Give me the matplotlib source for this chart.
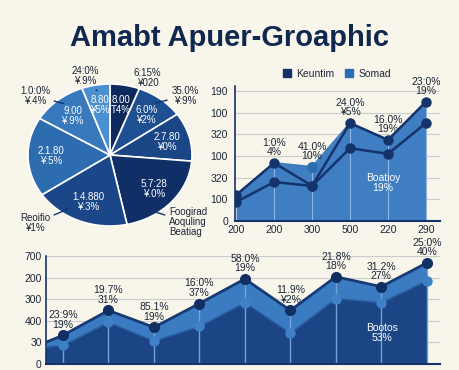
import numpy as np
import matplotlib.pyplot as plt
from matplotlib.patches import Patch

plt.rcParams['font.family'] = ['Liberation Sans', 'DejaVu Sans']

BG = '#f8f6eb'
NAVY = '#14336b'
TEXT = '#1c2538'

# pie, clockwise from 12 o'clock (slice sizes in degrees)
pie_sizes = [21, 34, 40, 73, 68, 65, 39, 20]
pie_colors = ['#0e2a5c', '#1d4f91', '#1a4686', '#0f2f66',
              '#1b4788', '#2e6cb0', '#3878bd', '#4a8fd0']
pie_inner = ['8.00\nT4%', '6.0%\n¥2%', '2.7.80\n¥0%', '5.7:28\n¥.0%',
             '1.4.880\n¥:3%', '2.1.80\n¥:5%', '9.00\n¥.9%', '8.80\n¥5%']
# outer labels: slice index, text
pie_outer = [(0, '6:15%\n¥020'), (1, '35.0%\n¥:9%'), (3, 'Foogirad\nAoquling\nBeatiag'),
             (4, 'Reoifio\n¥1%'), (6, '1.0:0%\n¥.4%'), (7, '24:0%\n¥.9%')]

# top right area chart
tr_ticks = ['200', '200', '300', '500', '220', '290']
tr_ylabels = ['0', '100', '320', '100', '320', '100', '190']
tr_upper = [60, 134, 81, 226, 187, 275]
tr_lower = [44, 90, 81, 168, 155, 226]
tr_area = [60, 134, 125, 226, 187, 275]
tr_labels = ['', '1:0%\n4%', '41.0%\n10%', '24.0%\n¥5%', '16.0%\n19%', '23:0%\n19%']
legend_names = ['Keuntim', 'Somad']

# bottom area chart (first point lies left of the axis)
bt_ylabels = ['0', '30', '400', '300', '200', '700']
bt_upper = [47, 133, 248, 170, 280, 394, 248, 404, 358, 468]
bt_lower = [63, 87, 193, 106, 174, 284, 142, 303, 284, 385]
bt_labels = ['23:9%\n19%', '19.7%\n31%', '85.1%\n19%', '16:0%\n37%', '58.0%\n19%',
             '11.9%\n¥2%', '21.8%\n18%', '31.2%\n27%', '25:0%\n40%']

W, H = 460, 370
fig = plt.figure(figsize=(4.6, 3.7), dpi=100, facecolor=BG)


def box(l, t, r, b):
    return [l / W, 1 - b / H, (r - l) / W, (b - t) / H]


fig.text(0.5, 1 - 38 / H, 'Amabt Apuer-Groaphic', ha='center', va='center',
         fontsize=21, fontweight='bold', color='#10284f')

# ---- pie ----
ax1 = fig.add_axes(box(3.4, 62.7, 216.6, 247.3))
wedges, _ = ax1.pie(pie_sizes, colors=pie_colors, startangle=90, counterclock=False,
                    wedgeprops=dict(edgecolor='white', linewidth=1.2))
ax1.set_aspect('auto')
ax1.set_xlim(-1.3, 1.3)
ax1.set_ylim(-1.3, 1.3)
ax1.set_facecolor('none')


def polar(ang, r):
    a = np.deg2rad(ang)
    return r * np.sin(a), r * np.cos(a)


mids = 90 - np.array([(w.theta1 + w.theta2) / 2 for w in wedges])
for m, lab in zip(mids, pie_inner):
    ax1.text(*polar(m, 0.72), lab, ha='center', va='center', color='white',
             fontsize=7, linespacing=1.0)

outer_pos = {0: (0.46, 1.085), 1: (0.915, 0.83), 3: (0.72, -0.944),
             4: (-0.915, -0.958), 6: (-0.915, 0.83), 7: (-0.305, 1.113)}
outer_ang = {0: 11, 1: 37, 3: 148, 4: 214, 6: 322, 7: 350}
for i, lab in pie_outer:
    ha = 'left' if i == 3 else 'center'
    ax1.annotate(lab, xy=polar(outer_ang[i], 0.92), xytext=outer_pos[i],
                 ha=ha, va='center', fontsize=7, color=TEXT, linespacing=1.0,
                 arrowprops=dict(arrowstyle='-', color=NAVY, lw=1, shrinkA=1, shrinkB=0))

# ---- top right ----
ax2 = fig.add_axes(box(235, 86, 440, 221))
x2 = np.arange(len(tr_upper))
ax2.set_xlim(-0.03, 5.37)
ax2.set_ylim(0, 311.5)
ax2.set_facecolor('none')
ax2.set_yticks(np.arange(0, 301, 50), tr_ylabels)
ax2.set_xticks(x2, tr_ticks)
ax2.tick_params(length=0, labelsize=7.5, colors=TEXT)
ax2.tick_params(axis='y', pad=5)
ax2.tick_params(axis='x', pad=3)
ax2.grid(axis='y', color='#cccccc', lw=0.8)
ax2.set_axisbelow(True)
for s in ['top', 'right']:
    ax2.spines[s].set_visible(False)
ax2.spines['left'].set(color=NAVY, lw=1.2)
ax2.spines['bottom'].set(color=NAVY, lw=1.5)
ax2.fill_between(x2, 0, tr_area, color='#3f7ec3', lw=0, zorder=2)
ax2.vlines(x2[1:], 0, tr_area[1:], color='#8db6e2', lw=0.8, zorder=2)
ax2.plot(x2, tr_area, color='#3a78bf', lw=1.3, zorder=3)
ax2.plot(x2[2], tr_area[2], 'o', color='#2f6cb0', ms=7, zorder=4)
ax2.plot(x2, tr_lower, '-o', color=NAVY, lw=1.8, ms=6.5, zorder=4)
ax2.plot(x2, tr_upper, '-o', color=NAVY, lw=1.8, ms=6.5, zorder=5)
for xi, yi, lab in zip(x2, tr_area, tr_labels):
    if lab:
        ax2.annotate(lab, (xi, yi), xytext=(0, 4), textcoords='offset points',
                     ha='center', va='bottom', fontsize=7.5, color=TEXT, linespacing=0.95)
ax2.text(0.722, 0.28, 'Boatioy\n19%', transform=ax2.transAxes, ha='center', va='center',
         color='white', fontsize=7.5, linespacing=1.0, zorder=6)
fig.legend([Patch(color='#13306a'), Patch(color='#2b6cb5')], legend_names,
           loc='center', bbox_to_anchor=(337 / W, 1 - 74 / H), ncol=2, frameon=False,
           fontsize=7.5, handlelength=0.8, handleheight=0.8, columnspacing=1.0,
           handletextpad=0.5, labelcolor=TEXT)

# ---- bottom ----
ax3 = fig.add_axes(box(46, 256, 440, 364))
x3 = np.arange(len(bt_upper)) - 1
ax3.set_xlim(-0.374, 8.29)
ax3.set_ylim(0, 500)
ax3.set_facecolor('none')
ax3.set_yticks(np.arange(0, 501, 100), bt_ylabels)
ax3.set_xticks([])
ax3.tick_params(length=0, labelsize=7.5, colors=TEXT, pad=3)
ax3.grid(axis='y', color='#cccccc', lw=0.8)
ax3.set_axisbelow(True)
for s in ['top', 'right']:
    ax3.spines[s].set_visible(False)
ax3.spines['left'].set(color=NAVY, lw=1.2)
ax3.spines['bottom'].set(color=NAVY, lw=1.5)
ax3.fill_between(x3, 0, bt_upper, color='#3b7bc1', lw=0, zorder=2)
ax3.fill_between(x3, 0, bt_lower, color='#1b4584', lw=0, zorder=2)
ax3.vlines(x3[1:], 0, bt_upper[1:], color='#6fa3da', lw=1, zorder=2)
ax3.plot(x3, bt_lower, color='#2a5ea3', lw=1, zorder=3)
ax3.plot(x3[1:], bt_lower[1:], 'o', color='#3f80c6', ms=6.5, zorder=4)
ax3.plot(x3, bt_upper, color='#173a74', lw=2, zorder=4)
ax3.plot(x3[1:], bt_upper[1:], 'o', color='#112f63', ms=7, zorder=5)
for xi, yi, lab in zip(x3[1:], bt_upper[1:], bt_labels):
    ax3.annotate(lab, (xi, yi), xytext=(0, 4), textcoords='offset points',
                 ha='center', va='bottom', fontsize=7.5, color=TEXT, linespacing=0.95)
ax3.text(0.853, 0.29, 'Bootos\n53%', transform=ax3.transAxes, ha='center', va='center',
         color='white', fontsize=7.5, linespacing=1.0, zorder=6)

fig.savefig('out.png', dpi=100, facecolor=BG)
